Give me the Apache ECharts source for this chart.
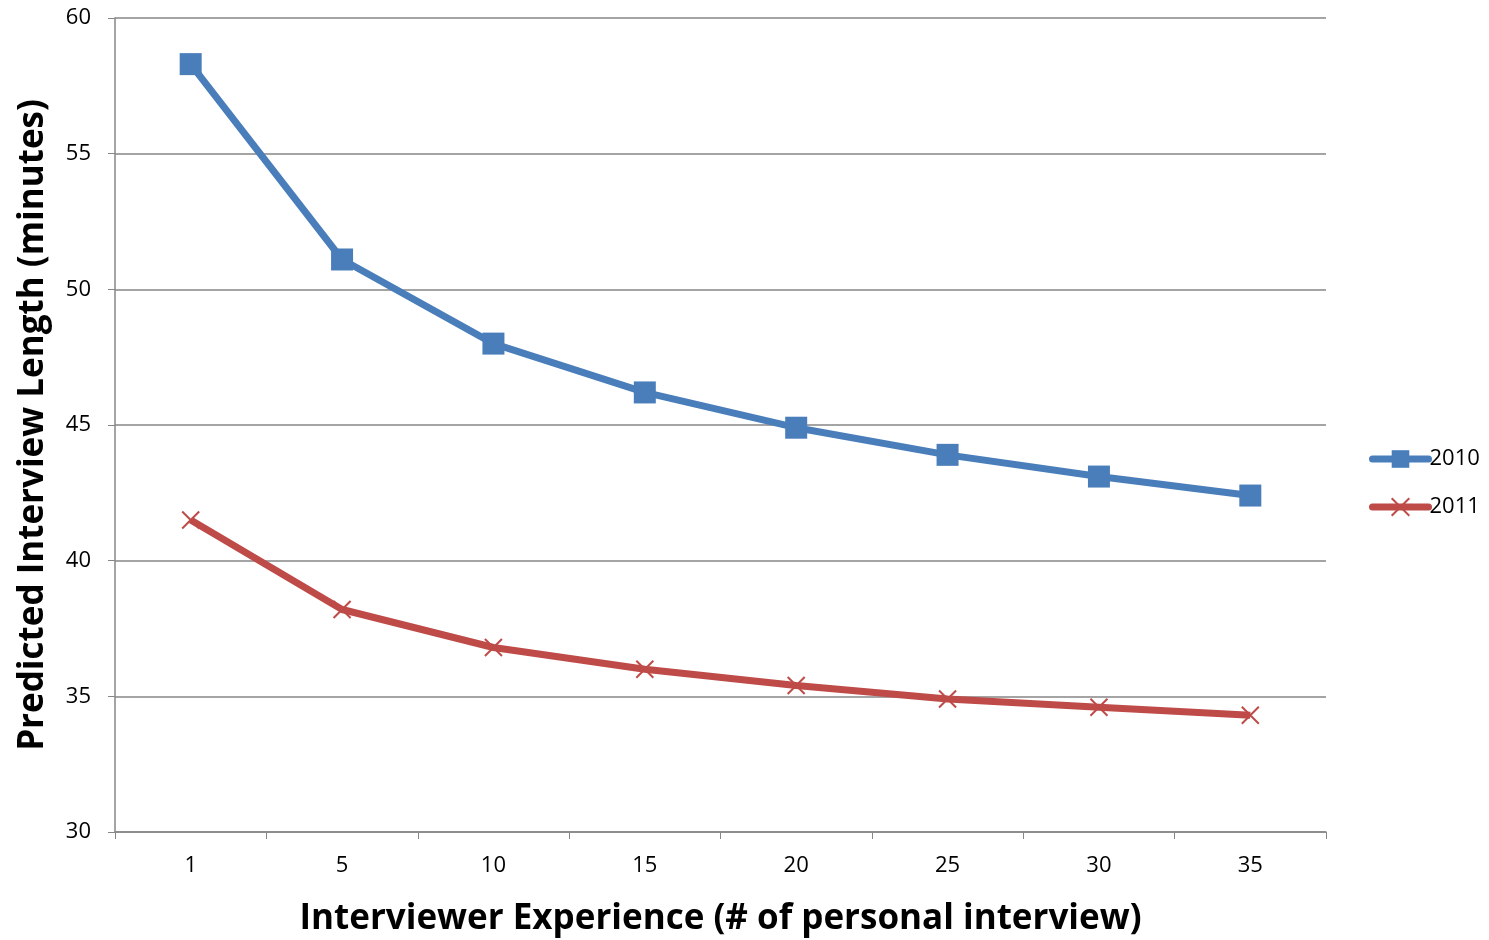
<!DOCTYPE html>
<html><head><meta charset="utf-8">
<script src="https://cdn.jsdelivr.net/npm/echarts@6/dist/echarts.min.js"></script>
<style>html,body{margin:0;padding:0;background:#fff}#c{width:1489px;height:940px}</style>
</head><body><div id="c"></div>
<script>
const categories = ['1','5','10','15','20','25','30','35'];
const series2010 = [58.3, 51.1, 48.0, 46.2, 44.9, 43.9, 43.1, 42.4];
const series2011 = [41.5, 38.2, 36.8, 36.0, 35.4, 34.9, 34.6, 34.3];
const yTicks = [30, 35, 40, 45, 50, 55, 60];

const chart = echarts.init(document.getElementById('c'));
const font = 'Open Sans';
chart.setOption({
  animation: false,
  grid: {left: 115, right: 163, top: 18, bottom: 108, containLabel: false, outerBoundsMode: 'none'},
  legend: {
    orient: 'vertical', left: 1364, top: 443, itemWidth: 56, itemHeight: 22, itemGap: 26,
    textStyle: {fontFamily: font, fontSize: 22, color: '#000', padding: [0,0,0,-4]},
    lineStyle: {width: 7, cap: 'round'},
    data: ['2010','2011']
  },
  xAxis: {
    type: 'category', data: categories, boundaryGap: true,
    name: 'Interviewer Experience (# of personal interview)',
    nameLocation: 'middle', nameGap: 70,
    nameTextStyle: {fontFamily: font, fontSize: 35, fontWeight: 'bold', color: '#000'},
    axisLine: {lineStyle: {color: '#868686', width: 1.5}},
    axisTick: {show: true, length: 7, lineStyle: {color: '#868686'}},
    axisLabel: {fontFamily: font, fontSize: 22, color: '#000', margin: 23}
  },
  yAxis: {
    type: 'value', min: 30, max: 60, interval: 5,
    name: 'Predicted Interview Length (minutes)',
    nameLocation: 'middle', nameGap: 64, nameRotate: 90,
    nameTextStyle: {fontFamily: font, fontSize: 35, fontWeight: 'bold', color: '#000'},
    axisLine: {show: true, lineStyle: {color: '#868686', width: 1.5}},
    axisTick: {show: true, length: 7, lineStyle: {color: '#868686'}},
    axisLabel: {fontFamily: font, fontSize: 22, color: '#000', margin: 24,
      formatter: v => yTicks.includes(v) ? String(v) : ''},
    splitLine: {lineStyle: {color: '#868686', width: 1.5}}
  },
  series: [
    {name: '2010', type: 'line', data: series2010,
     symbol: 'rect', symbolSize: 22,
     lineStyle: {color: '#4a7ebb', width: 7},
     itemStyle: {color: '#4a7ebb'}},
    {name: '2011', type: 'line', data: series2011,
     symbol: 'path://M0,0L10,10M10,0L0,10', symbolSize: 17,
     lineStyle: {color: '#be4b48', width: 7},
     itemStyle: {color: '#be4b48', borderColor: '#be4b48', borderWidth: 2}}
  ]
});
</script></body></html>
